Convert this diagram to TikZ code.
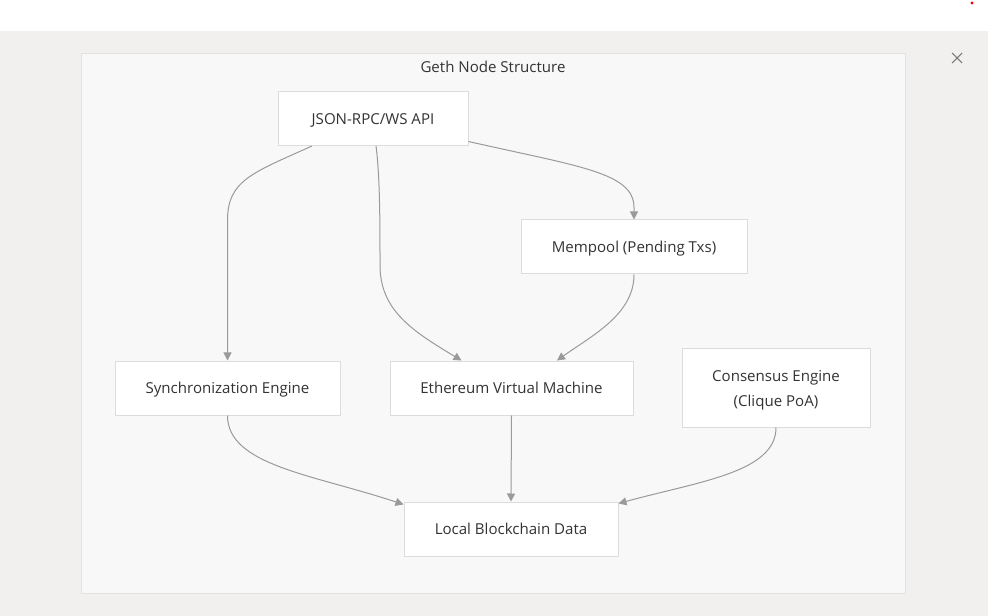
\documentclass[tikz,border=0pt]{standalone}
\usepackage{fontspec}
\setmainfont{Open Sans}
\usetikzlibrary{arrows.meta,calc}

\definecolor{pagegray}{HTML}{F1F0EF}
\definecolor{framefill}{HTML}{F8F8F8}
\definecolor{frameline}{HTML}{E2E2E2}
\definecolor{boxline}{HTML}{DCDCDC}
\definecolor{flowgray}{HTML}{9A9A9A}
\definecolor{ink}{HTML}{333333}
\definecolor{closegray}{HTML}{777777}

\begin{document}
\begin{tikzpicture}[x=0.75pt, y=-0.75pt,
  component/.style = {rectangle, draw=boxline, fill=white, line width=0.75pt, text=ink,
                      minimum height=40.5pt, align=center, text height=11.4pt, text depth=2.5pt,
                      font=\fontsize{11.3pt}{18.75pt}\selectfont},
  flow/.style = {draw=flowgray, line width=0.75pt, -{Triangle[length=6pt, width=6pt]}}]
  % Canvas.
  \useasboundingbox (0,0) rectangle (988,616);
  \fill [pagegray] (0,31) rectangle (988,616);
  \draw [frameline, fill=framefill, line width=0.75pt] (81,54) rectangle (905,593);
  \node at (493,67) [name=title, text=ink, font=\fontsize{11.3pt}{13pt}\selectfont] {Geth Node Structure};
  \draw [closegray, line width=0.8pt] (952,53) -- (962,63) (952,63) -- (962,53);
  \fill [red] (972,3) circle (1.6);

  % Components.
  \node at (373,118.5) [component, minimum width=142.5pt, name=api] {JSON-RPC/WS API};
  \node at (634,247) [component, minimum width=169.5pt, name=mempool] {Mempool (Pending Txs)};
  \node at (227.5,388) [component, minimum width=168.75pt, name=sync] {Synchronization Engine};
  \node at (511.5,388) [component, minimum width=182.25pt, name=evm] {Ethereum Virtual Machine};
  \node at (776,388) [component, minimum width=141pt, minimum height=58.5pt,
                      text height=31pt, text depth=2.7pt, name=consensus] {Consensus Engine\\(Clique PoA)};
  \node at (511,529) [component, minimum width=160.5pt, name=local] {Local Blockchain Data};

  % API calls.
  \draw [flow] ($(api.south)+(-61,0)$)
               .. controls +(-60,27) and +(0,-40) .. ($(sync.north)+(0,-140)$)
               -- (sync.north);
  \draw [flow] ($(api.south)+(3,0)$)
               .. controls +(4,30) and +(0,-40) .. (380,265)
               .. controls +(0,45) and +(-50,-30) .. ($(evm.north)+(-50,0)$);
  \draw [flow] ($(api.east)+(0,23)$)
               .. controls +(110,25) and +(0,-35) .. ($(mempool.north)+(0,-12)$)
               -- (mempool.north);
  \draw [flow] (mempool.south)
               .. controls +(0,40) and +(35,-25) .. ($(evm.north)+(45.5,0)$);

  % Storage.
  \draw [flow] (sync.south)
               .. controls +(0,50) and +(-90,-30) .. ($(local.north west)+(0,3)$);
  \draw [flow] (evm.south) -- (local.north);
  \draw [flow] (consensus.south)
               .. controls +(0,45) and +(80,-22) .. ($(local.north east)+(0,2)$);
\end{tikzpicture}
\end{document}
